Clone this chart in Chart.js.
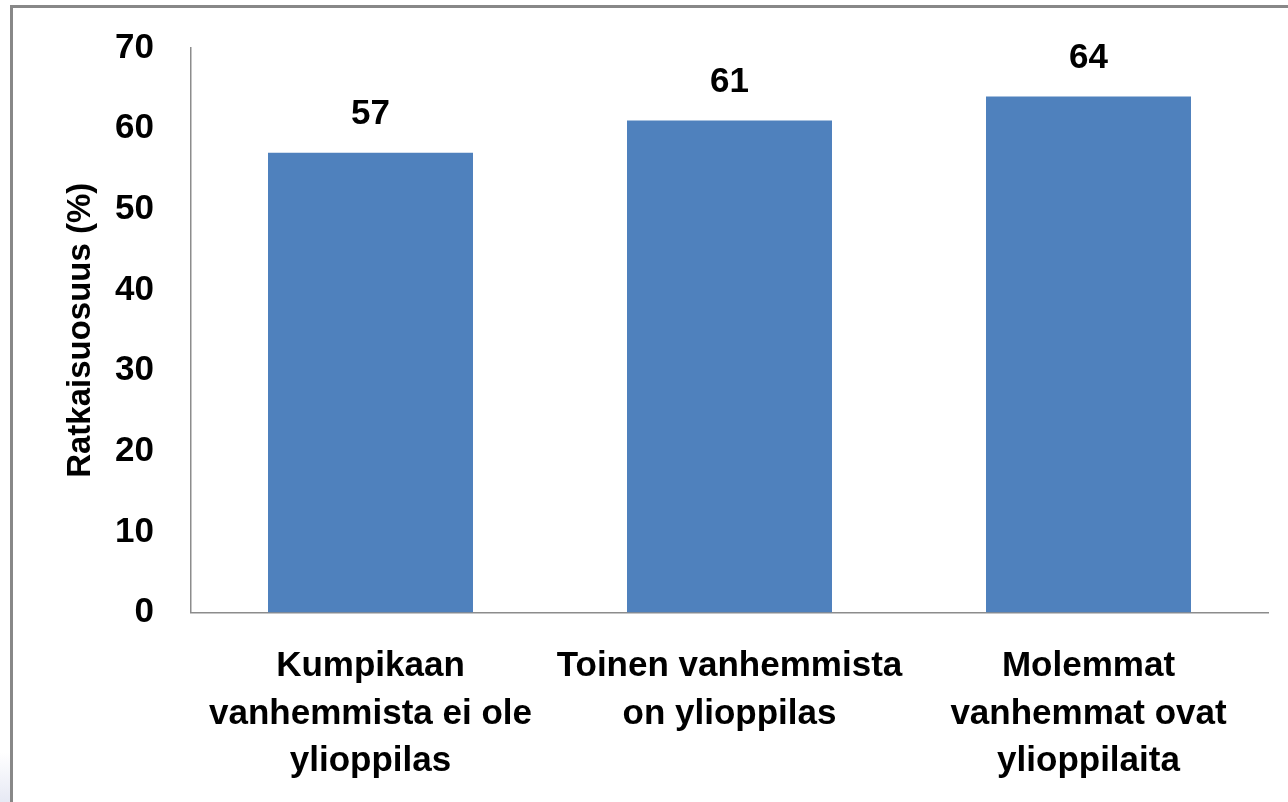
<!DOCTYPE html>
<html>
<head>
<meta charset="utf-8">
<script src="https://cdn.jsdelivr.net/npm/chart.js@4.4.1/dist/chart.umd.min.js"></script>
<style>
  html, body { margin: 0; padding: 0; background: #ffffff; }
  #wrap { position: relative; width: 1288px; height: 802px; overflow: hidden; }
  #c { position: absolute; left: 0; top: 0; }
  #frameTop { position: absolute; left: 10px; top: 5px; width: 1278px; height: 3px; background: #888888; }
  #frameLeft { position: absolute; left: 10px; top: 5px; width: 3px; height: 797px; background: #888888; }
  #blob { position: absolute; left: 0; top: 752px; width: 10px; height: 50px; background: linear-gradient(#ffffff, #e6e9f4); }
</style>
</head>
<body>
<div id="wrap">
  <canvas id="c" width="1288" height="802"></canvas>
  <div id="frameTop"></div>
  <div id="frameLeft"></div>
  <div id="blob"></div>
</div>
<script>
const categories = [
  ["Kumpikaan", "vanhemmista ei ole", "ylioppilas"],
  ["Toinen vanhemmista", "on ylioppilas"],
  ["Molemmat", "vanhemmat ovat", "ylioppilaita"]
];
const values = [57, 61, 64];
const yTicks = [0, 10, 20, 30, 40, 50, 60, 70];
const yTitle = "Ratkaisuosuus (%)";

const FONT = "'Liberation Sans', Arial, sans-serif";

const valueLabels = {
  id: 'valueLabels',
  afterDatasetsDraw(chart) {
    const ctx = chart.ctx;
    const meta = chart.getDatasetMeta(0);
    ctx.save();
    ctx.font = "bold 35px " + FONT;
    ctx.fillStyle = '#000000';
    ctx.textAlign = 'center';
    ctx.textBaseline = 'middle';
    meta.data.forEach((bar, i) => {
      ctx.fillText(String(values[i]), bar.x, bar.y - 38);
    });
    ctx.restore();
  }
};

new Chart(document.getElementById('c'), {
  type: 'bar',
  data: {
    labels: categories,
    datasets: [{
      data: values,
      backgroundColor: '#4F81BD',
      borderWidth: 0,
      barPercentage: 0.571,
      categoryPercentage: 1.0
    }]
  },
  options: {
    responsive: false,
    animation: false,
    devicePixelRatio: 1,
    layout: { padding: { left: 0, right: 20, top: 48, bottom: 0 } },
    plugins: { legend: { display: false }, tooltip: { enabled: false } },
    scales: {
      x: {
        grid: { display: false, drawTicks: false },
        border: { display: true, color: '#8c8c8c', width: 1.5 },
        ticks: {
          color: '#000000',
          font: { family: FONT, size: 35, weight: 'bold', lineHeight: 1.36 },
          padding: 30,
          maxRotation: 0,
          autoSkip: false
        },
        afterFit(scale) { scale.height = 189.5; scale.paddingLeft = 0; scale.paddingRight = 0; }
      },
      y: {
        min: 0,
        max: 70,
        afterBuildTicks(scale) { scale.ticks = yTicks.map(v => ({ value: v })); },
        grid: { display: false, drawTicks: false },
        border: { display: true, color: '#8c8c8c', width: 1.5 },
        ticks: {
          color: '#000000',
          font: { family: FONT, size: 35, weight: 'bold' },
          padding: 37
        },
        title: {
          display: true,
          text: yTitle,
          color: '#000000',
          font: { family: FONT, size: 33, weight: 'bold', lineHeight: 1.2 },
          padding: { top: 61, bottom: 0 }
        },
        afterFit(scale) { scale.width = 191; scale.paddingTop = 0; scale.paddingBottom = 0; }
      }
    }
  },
  plugins: [valueLabels]
});
</script>
</body>
</html>
